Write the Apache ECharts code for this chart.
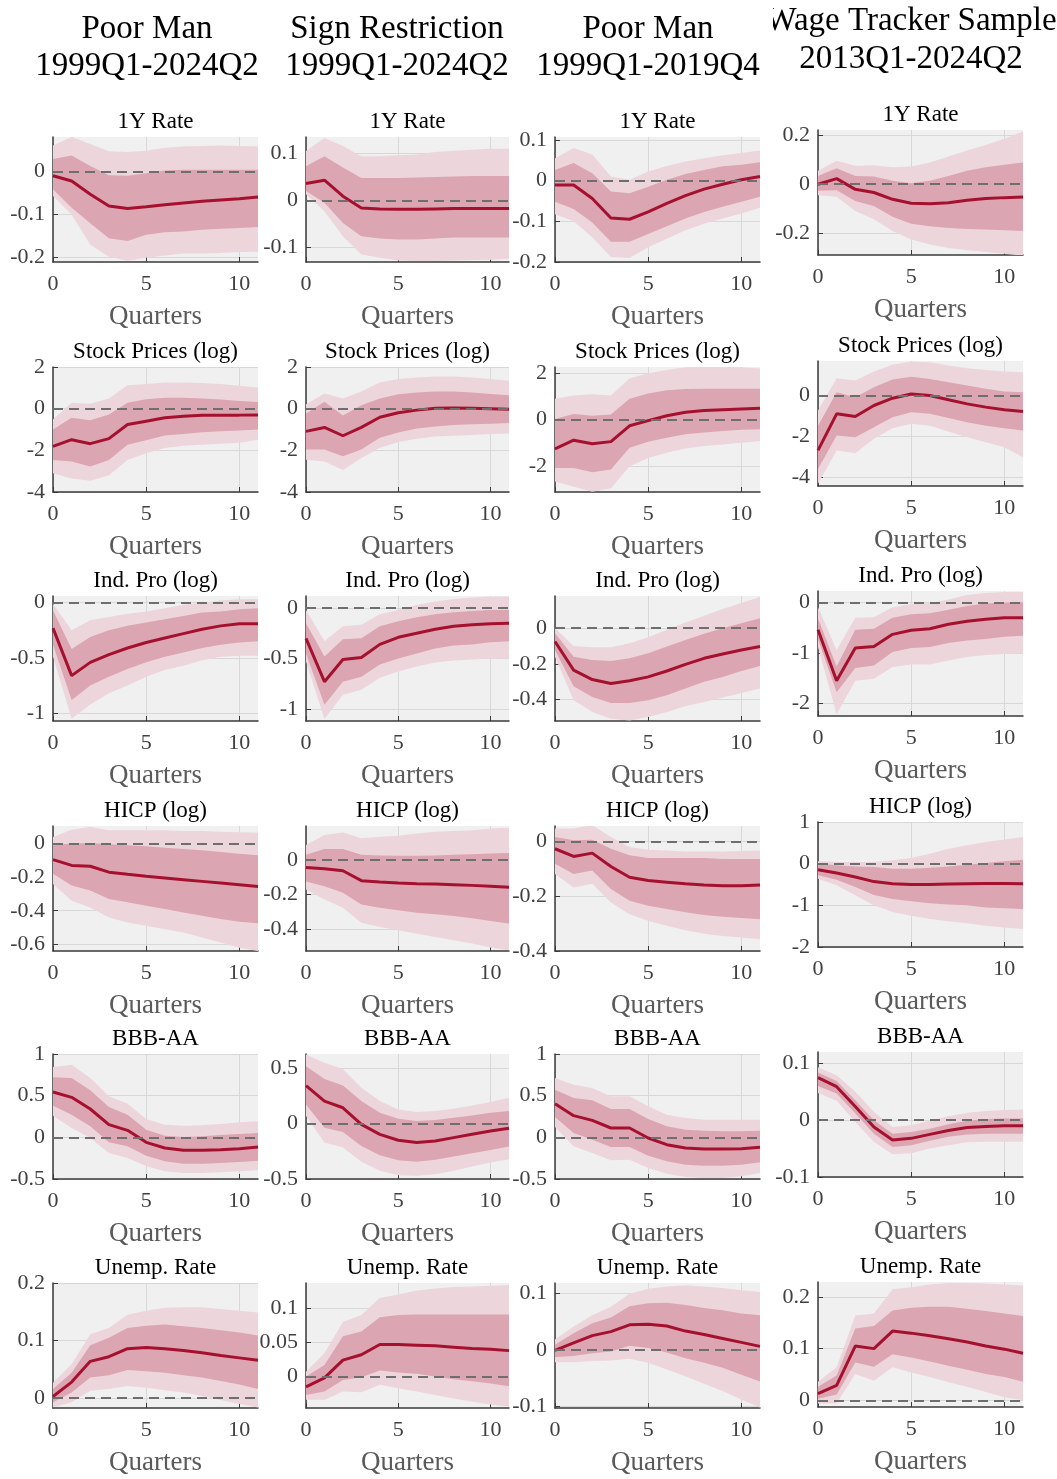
<!DOCTYPE html>
<html><head><meta charset="utf-8">
<script src="https://cdn.jsdelivr.net/npm/echarts@6/dist/echarts.min.js"></script>
<style>html,body{margin:0;padding:0;background:#fff}#c{width:1057px;height:1479px}</style>
</head><body><div id="c"></div>
<script>
// ---------------- DATA ----------------
const horizon = [0,1,2,3,4,5,6,7,8,9,10,11];
const columnTitles = [["Poor Man","1999Q1-2024Q2"],["Sign Restriction","1999Q1-2024Q2"],["Poor Man","1999Q1-2019Q4"],["Wage Tracker Sample","2013Q1-2024Q2"]];
const variableNames = ["1Y Rate","Stock Prices (log)","Ind. Pro (log)","HICP (log)","BBB-AA","Unemp. Rate"];
const xTickValues = [0,5,10];
const xLabel = "Quarters";

// y tick values per column (rows top to bottom)
const yTicksPM   = [[-0.2,-0.1,0],[-4,-2,0,2],[-1,-0.5,0],[-0.6,-0.4,-0.2,0],[-0.5,0,0.5,1],[0,0.1,0.2]];
const yTicksSR   = [[-0.1,0,0.1],[-4,-2,0,2],[-1,-0.5,0],[-0.4,-0.2,0],[-0.5,0,0.5],[0,0.05,0.1]];
const yTicksP19  = [[-0.2,-0.1,0,0.1],[-2,0,2],[-0.4,-0.2,0],[-0.4,-0.2,0],[-0.5,0,0.5,1],[-0.1,0,0.1]];
const yTicksWT   = [[-0.2,0,0.2],[-4,-2,0],[-2,-1,0],[-2,-1,0,1],[-0.1,0,0.1],[0,0.1,0.2]];
// y ranges [min,max]
const yRangePM  = [[-0.21,0.08],[-4,2],[-1.07,0.06],[-0.64,0.105],[-0.5,1],[-0.017,0.2]];
const yRangeSR  = [[-0.131,0.135],[-4,2],[-1.12,0.12],[-0.525,0.195],[-0.5,0.63],[-0.046,0.137]];
const yRangeP19 = [[-0.2,0.107],[-3.1,2.26],[-0.52,0.18],[-0.4,0.056],[-0.5,1],[-0.103,0.118]];
const yRangeWT  = [[-0.29,0.222],[-4.45,1.7],[-2.25,0.23],[-2,1],[-0.1,0.12],[-0.013,0.229]];

// each panel: [lower90, lower68, median, upper68, upper90]
const PM_rate = [
 [-0.057,-0.1,-0.17,-0.198,-0.207,-0.2,-0.195,-0.19,-0.19,-0.189,-0.187,-0.186],
 [-0.041,-0.084,-0.12,-0.155,-0.161,-0.147,-0.141,-0.139,-0.135,-0.133,-0.131,-0.129],
 [-0.01,-0.022,-0.053,-0.08,-0.086,-0.082,-0.077,-0.073,-0.069,-0.066,-0.063,-0.059],
 [0.029,0.037,0.013,-0.009,-0.01,-0.004,0.002,0.004,0.004,0.004,0.004,0.004],
 [0.06,0.08,0.064,0.047,0.045,0.048,0.055,0.058,0.059,0.06,0.059,0.058]];
const PM_stock = [
 [-3.1,-3.35,-3.46,-3.19,-2.46,-2.14,-1.89,-1.78,-1.73,-1.68,-1.64,-1.49],
 [-2.46,-2.54,-2.78,-2.46,-1.73,-1.52,-1.29,-1.21,-1.13,-1.08,-1.05,-1.0],
 [-1.81,-1.49,-1.68,-1.44,-0.76,-0.6,-0.44,-0.36,-0.32,-0.31,-0.31,-0.3],
 [-1.0,-0.44,-0.55,-0.28,0.29,0.45,0.53,0.53,0.49,0.44,0.37,0.32],
 [-0.52,0.29,0.24,0.49,1.13,1.18,1.26,1.26,1.23,1.18,1.1,1.02]];
const PM_ip = [
 [-0.49,-1.05,-0.92,-0.82,-0.75,-0.67,-0.61,-0.57,-0.52,-0.49,-0.48,-0.48],
 [-0.38,-0.88,-0.75,-0.67,-0.6,-0.54,-0.49,-0.45,-0.41,-0.38,-0.36,-0.35],
 [-0.23,-0.66,-0.54,-0.47,-0.41,-0.36,-0.32,-0.28,-0.24,-0.21,-0.19,-0.19],
 [-0.07,-0.42,-0.31,-0.25,-0.21,-0.18,-0.15,-0.12,-0.09,-0.08,-0.06,-0.05],
 [-0.01,-0.25,-0.16,-0.13,-0.1,-0.08,-0.05,-0.02,0,0.02,0.03,0.03]];
const PM_hicp = [
 [-0.24,-0.34,-0.38,-0.44,-0.47,-0.49,-0.51,-0.53,-0.56,-0.59,-0.62,-0.64],
 [-0.18,-0.25,-0.28,-0.33,-0.35,-0.37,-0.39,-0.41,-0.43,-0.45,-0.465,-0.475],
 [-0.095,-0.13,-0.135,-0.17,-0.183,-0.195,-0.205,-0.215,-0.225,-0.235,-0.245,-0.255],
 [-0.01,0,0.004,-0.004,-0.01,-0.016,-0.024,-0.032,-0.04,-0.05,-0.06,-0.07],
 [0.04,0.083,0.1,0.08,0.08,0.08,0.08,0.075,0.075,0.07,0.068,0.065]];
const PM_bbb = [
 [0.26,0.112,-0.008,-0.188,-0.248,-0.348,-0.408,-0.428,-0.428,-0.42,-0.408,-0.396],
 [0.38,0.272,0.132,-0.06,-0.108,-0.22,-0.288,-0.316,-0.316,-0.308,-0.296,-0.28],
 [0.544,0.48,0.34,0.152,0.084,-0.06,-0.128,-0.156,-0.156,-0.148,-0.136,-0.116],
 [0.72,0.712,0.564,0.364,0.272,0.092,0.02,0.004,0.012,0.028,0.04,0.052],
 [0.844,0.872,0.712,0.492,0.404,0.22,0.152,0.14,0.144,0.16,0.18,0.192]];
const PM_unemp = [
 [-0.016,-0.007,0.013,0.016,0.021,0.018,0.014,0.01,0.004,-0.003,-0.01,-0.016],
 [-0.007,0.01,0.036,0.04,0.049,0.047,0.044,0.04,0.036,0.03,0.024,0.016],
 [0.003,0.028,0.064,0.072,0.086,0.088,0.086,0.083,0.079,0.074,0.07,0.066],
 [0.016,0.044,0.092,0.105,0.122,0.126,0.128,0.125,0.122,0.118,0.114,0.109],
 [0.027,0.059,0.111,0.122,0.145,0.152,0.157,0.158,0.158,0.155,0.152,0.149]];

const SR_rate = [
 [0.013,-0.023,-0.076,-0.115,-0.122,-0.128,-0.129,-0.129,-0.128,-0.127,-0.126,-0.124],
 [0.02,-0.005,-0.048,-0.076,-0.081,-0.083,-0.083,-0.081,-0.079,-0.079,-0.079,-0.079],
 [0.036,0.043,0.009,-0.016,-0.018,-0.019,-0.019,-0.018,-0.017,-0.017,-0.017,-0.017],
 [0.073,0.094,0.07,0.048,0.048,0.048,0.049,0.05,0.051,0.052,0.052,0.052],
 [0.105,0.133,0.116,0.094,0.094,0.096,0.098,0.103,0.106,0.108,0.11,0.11]];
const SR_stock = [
 [-2.45,-2.53,-2.94,-2.37,-1.88,-1.6,-1.44,-1.34,-1.3,-1.26,-1.22,-1.19],
 [-1.96,-1.96,-2.28,-1.96,-1.39,-1.14,-0.95,-0.85,-0.78,-0.75,-0.72,-0.69],
 [-1.09,-0.9,-1.3,-0.9,-0.41,-0.2,-0.07,0.02,0.03,0.02,0,-0.03],
 [-0.24,0.33,-0.33,0.16,0.49,0.69,0.78,0.82,0.82,0.78,0.7,0.65],
 [0.21,0.73,0.49,0.82,1.26,1.42,1.5,1.55,1.55,1.5,1.42,1.34]];
const SR_ip = [
 [-0.53,-1.1,-0.86,-0.81,-0.69,-0.63,-0.58,-0.54,-0.52,-0.51,-0.5,-0.5],
 [-0.45,-0.96,-0.73,-0.68,-0.56,-0.5,-0.45,-0.4,-0.37,-0.36,-0.34,-0.33],
 [-0.3,-0.73,-0.51,-0.49,-0.36,-0.29,-0.25,-0.21,-0.18,-0.165,-0.155,-0.15],
 [-0.15,-0.48,-0.31,-0.3,-0.18,-0.13,-0.09,-0.06,-0.04,-0.03,-0.02,-0.02],
 [-0.02,-0.33,-0.18,-0.165,-0.06,-0.02,0.03,0.065,0.09,0.105,0.115,0.115]];
const SR_hicp = [
 [-0.171,-0.229,-0.276,-0.362,-0.387,-0.406,-0.425,-0.444,-0.463,-0.482,-0.505,-0.52],
 [-0.124,-0.152,-0.19,-0.257,-0.276,-0.29,-0.305,-0.314,-0.324,-0.337,-0.352,-0.366],
 [-0.044,-0.051,-0.063,-0.12,-0.128,-0.133,-0.137,-0.139,-0.143,-0.147,-0.152,-0.158],
 [0.029,0.063,0.063,0.029,0.025,0.023,0.023,0.025,0.029,0.032,0.036,0.04],
 [0.086,0.143,0.158,0.124,0.133,0.139,0.152,0.162,0.166,0.171,0.18,0.185]];
const SR_bbb = [
 [0.069,-0.171,-0.216,-0.345,-0.426,-0.465,-0.471,-0.456,-0.426,-0.387,-0.351,-0.321],
 [0.174,-0.036,-0.075,-0.201,-0.285,-0.33,-0.345,-0.327,-0.297,-0.267,-0.237,-0.207],
 [0.345,0.204,0.144,-0.006,-0.096,-0.15,-0.171,-0.156,-0.126,-0.096,-0.066,-0.042],
 [0.52,0.405,0.345,0.204,0.099,0.045,0.024,0.033,0.054,0.075,0.099,0.114],
 [0.625,0.55,0.495,0.324,0.204,0.129,0.105,0.114,0.135,0.165,0.195,0.234]];
const SR_unemp = [
 [-0.034,-0.034,-0.022,-0.023,-0.012,-0.017,-0.022,-0.027,-0.032,-0.037,-0.041,-0.044],
 [-0.027,-0.022,-0.005,-0.001,0.009,0.006,0.004,0,-0.004,-0.007,-0.01,-0.014],
 [-0.015,-0.002,0.024,0.032,0.047,0.047,0.046,0.045,0.043,0.041,0.04,0.038],
 [0,0.017,0.059,0.066,0.087,0.09,0.091,0.091,0.091,0.091,0.091,0.091],
 [0.007,0.034,0.08,0.09,0.115,0.12,0.126,0.129,0.131,0.132,0.133,0.134]];

const P19_rate = [
 [-0.083,-0.1,-0.139,-0.188,-0.19,-0.164,-0.143,-0.122,-0.106,-0.093,-0.081,-0.067],
 [-0.052,-0.07,-0.103,-0.15,-0.15,-0.131,-0.112,-0.093,-0.077,-0.064,-0.052,-0.04],
 [-0.011,-0.011,-0.044,-0.092,-0.095,-0.077,-0.056,-0.037,-0.021,-0.009,0.002,0.01],
 [0.026,0.043,0.018,-0.027,-0.031,-0.015,0.002,0.016,0.026,0.035,0.039,0.045],
 [0.055,0.08,0.064,0.01,0.002,0.022,0.036,0.047,0.055,0.062,0.068,0.074]];
const P19_stock = [
 [-2.65,-2.87,-3.09,-2.94,-2.0,-1.64,-1.42,-1.23,-1.13,-1.06,-0.99,-0.91],
 [-2.07,-2.07,-2.25,-2.14,-1.2,-0.94,-0.77,-0.62,-0.55,-0.48,-0.43,-0.41],
 [-1.25,-0.88,-1.03,-0.94,-0.26,-0.04,0.17,0.32,0.39,0.43,0.46,0.49],
 [0.03,0.25,0.17,0.22,0.9,1.12,1.26,1.32,1.33,1.33,1.33,1.33],
 [0.9,1.04,1.09,1.04,1.77,1.99,2.13,2.25,2.28,2.28,2.25,2.2]];
const P19_ip = [
 [-0.16,-0.404,-0.47,-0.508,-0.517,-0.498,-0.47,-0.438,-0.414,-0.389,-0.363,-0.338],
 [-0.122,-0.325,-0.385,-0.419,-0.419,-0.404,-0.376,-0.338,-0.3,-0.273,-0.24,-0.212],
 [-0.075,-0.235,-0.288,-0.31,-0.295,-0.273,-0.24,-0.203,-0.169,-0.145,-0.122,-0.103],
 [-0.028,-0.16,-0.178,-0.184,-0.169,-0.141,-0.103,-0.066,-0.032,0,0.028,0.056],
 [0,-0.1,-0.107,-0.107,-0.085,-0.051,-0.009,0.032,0.07,0.107,0.141,0.175]];
const P19_hicp = [
 [-0.119,-0.168,-0.155,-0.223,-0.266,-0.29,-0.308,-0.324,-0.337,-0.345,-0.351,-0.357],
 [-0.082,-0.119,-0.106,-0.174,-0.217,-0.235,-0.247,-0.259,-0.269,-0.275,-0.28,-0.284],
 [-0.027,-0.055,-0.043,-0.092,-0.131,-0.143,-0.149,-0.155,-0.159,-0.162,-0.162,-0.159],
 [0.016,0.004,0.006,-0.027,-0.051,-0.061,-0.061,-0.061,-0.061,-0.064,-0.064,-0.064],
 [0.047,0.047,0.059,0.016,-0.021,-0.031,-0.033,-0.037,-0.037,-0.037,-0.035,-0.033]];
const P19_bbb = [
 [0.124,-0.108,-0.188,-0.276,-0.268,-0.368,-0.436,-0.476,-0.488,-0.488,-0.468,-0.428],
 [0.244,0.052,-0.028,-0.116,-0.116,-0.22,-0.288,-0.328,-0.34,-0.34,-0.328,-0.3],
 [0.404,0.26,0.204,0.112,0.112,-0.008,-0.088,-0.128,-0.14,-0.14,-0.136,-0.12],
 [0.572,0.472,0.444,0.34,0.34,0.22,0.132,0.092,0.08,0.072,0.072,0.08],
 [0.712,0.632,0.592,0.492,0.492,0.372,0.272,0.232,0.212,0.212,0.212,0.212]];
const P19_unemp = [
 [-0.022,-0.022,-0.02,-0.019,-0.016,-0.023,-0.035,-0.047,-0.06,-0.073,-0.088,-0.102],
 [-0.013,-0.011,-0.006,-0.003,0.007,0.003,-0.005,-0.015,-0.023,-0.032,-0.044,-0.056],
 [-0.001,0.012,0.025,0.032,0.044,0.045,0.042,0.033,0.027,0.02,0.013,0.006],
 [0.009,0.029,0.047,0.057,0.077,0.082,0.083,0.079,0.074,0.07,0.064,0.061],
 [0.018,0.041,0.061,0.076,0.099,0.108,0.112,0.114,0.112,0.109,0.105,0.102]];

const WT_rate = [
 [-0.045,-0.051,-0.11,-0.144,-0.192,-0.227,-0.247,-0.261,-0.271,-0.278,-0.285,-0.293],
 [-0.027,-0.025,-0.069,-0.089,-0.133,-0.162,-0.172,-0.179,-0.183,-0.186,-0.189,-0.192],
 [0,0.023,-0.021,-0.034,-0.062,-0.078,-0.08,-0.076,-0.066,-0.059,-0.055,-0.052],
 [0.034,0.065,0.034,0.032,0.014,0.004,0.014,0.034,0.055,0.069,0.08,0.089],
 [0.055,0.096,0.076,0.078,0.069,0.073,0.089,0.113,0.138,0.161,0.186,0.216]];
const WT_stock = [
 [-4.34,-2.7,-2.84,-2.13,-1.61,-1.39,-1.48,-1.77,-2.05,-2.3,-2.54,-3.03],
 [-3.61,-1.97,-2.05,-1.56,-1.07,-0.82,-0.9,-1.11,-1.31,-1.48,-1.61,-1.72],
 [-2.7,-0.9,-1.03,-0.49,-0.13,0.08,0,-0.21,-0.41,-0.57,-0.7,-0.79],
 [-1.48,0.16,-0.08,0.41,0.79,0.93,0.82,0.66,0.49,0.33,0.2,0.16],
 [-0.74,0.85,0.74,1.18,1.52,1.67,1.64,1.48,1.34,1.26,1.18,1.15]];
const WT_ip = [
 [-0.88,-2.21,-1.55,-1.51,-1.28,-1.23,-1.23,-1.15,-1.08,-1.04,-1.02,-1.0],
 [-0.72,-1.78,-1.3,-1.25,-0.98,-0.9,-0.88,-0.8,-0.75,-0.72,-0.68,-0.66],
 [-0.54,-1.55,-0.9,-0.87,-0.63,-0.55,-0.52,-0.43,-0.37,-0.33,-0.3,-0.3],
 [-0.32,-1.27,-0.54,-0.52,-0.3,-0.23,-0.21,-0.14,-0.07,-0.02,0,0.01],
 [-0.09,-0.94,-0.3,-0.29,-0.09,-0.03,-0.01,0.06,0.15,0.19,0.21,0.21]];
const WT_hicp = [
 [-0.36,-0.52,-0.76,-1.0,-1.16,-1.25,-1.33,-1.38,-1.43,-1.49,-1.53,-1.57],
 [-0.28,-0.386,-0.56,-0.75,-0.845,-0.9,-0.95,-0.98,-1.0,-1.05,-1.07,-1.09],
 [-0.145,-0.225,-0.32,-0.43,-0.48,-0.5,-0.5,-0.49,-0.48,-0.475,-0.475,-0.48],
 [0,-0.04,-0.065,-0.08,-0.12,-0.12,-0.097,-0.065,-0.024,0.016,0.056,0.097],
 [0.056,0.04,0.04,0.04,0.08,0.137,0.24,0.36,0.44,0.52,0.58,0.64]];
const WT_bbb = [
 [0.048,0.034,-0.003,-0.038,-0.06,-0.058,-0.05,-0.044,-0.039,-0.038,-0.038,-0.038],
 [0.06,0.047,0.012,-0.024,-0.047,-0.044,-0.036,-0.029,-0.025,-0.024,-0.024,-0.024],
 [0.075,0.059,0.024,-0.012,-0.035,-0.032,-0.025,-0.018,-0.013,-0.011,-0.01,-0.01],
 [0.084,0.069,0.035,0,-0.024,-0.021,-0.015,-0.007,-0.001,0.002,0.003,0.003],
 [0.093,0.079,0.05,0.015,-0.012,-0.009,-0.001,0.007,0.013,0.016,0.018,0.019]];
const WT_unemp = [
 [-0.006,-0.006,0.051,0.038,0.064,0.054,0.045,0.035,0.026,0.016,0.006,0],
 [0.003,0.011,0.073,0.065,0.089,0.083,0.075,0.067,0.059,0.051,0.045,0.036],
 [0.013,0.029,0.105,0.1,0.134,0.13,0.125,0.119,0.113,0.105,0.099,0.091],
 [0.026,0.048,0.139,0.144,0.174,0.179,0.181,0.181,0.177,0.173,0.168,0.163],
 [0.036,0.064,0.164,0.168,0.215,0.219,0.224,0.227,0.227,0.226,0.224,0.222]];

// ---------------- LAYOUT / STYLE ----------------
const columns = [
  {panels:[PM_rate,PM_stock,PM_ip,PM_hicp,PM_bbb,PM_unemp], ticks:yTicksPM, ranges:yRangePM},
  {panels:[SR_rate,SR_stock,SR_ip,SR_hicp,SR_bbb,SR_unemp], ticks:yTicksSR, ranges:yRangeSR},
  {panels:[P19_rate,P19_stock,P19_ip,P19_hicp,P19_bbb,P19_unemp], ticks:yTicksP19, ranges:yRangeP19},
  {panels:[WT_rate,WT_stock,WT_ip,WT_hicp,WT_bbb,WT_unemp], ticks:yTicksWT, ranges:yRangeWT}
];
const colLeft = [53,306,555,818];
const colWidth = [205,203,205,205];
const rowTopStd = [137,367,596,826,1054,1283];
const rowTopWT = [130,361,591,822,1052,1282];
const panelH = 125;
const titleCenters = [[147,29,66],[397,29,66],[648,29,66],[911,21,59]];

const FONT = '"Liberation Serif","Times New Roman",serif';
const C_OUT = '#edd5dc', C_IN = '#dca5b2', C_LINE = '#a5102f';
const C_BG = '#f0f0f0', C_GRID = '#d8d8d8', C_AXIS = '#3a3a3a', C_LABEL = '#404040';

const grids=[], xAxes=[], yAxes=[], series=[], graphics=[];

function band(idx, lo, hi, color){
  return {type:'custom', xAxisIndex:idx, yAxisIndex:idx, data:[[5,0]], silent:true, clip:true, z:1,
    renderItem:function(params, api){
      const pts=[];
      for(let k=0;k<horizon.length;k++) pts.push(api.coord([horizon[k], hi[k]]));
      for(let k=horizon.length-1;k>=0;k--) pts.push(api.coord([horizon[k], lo[k]]));
      return {type:'polygon', shape:{points:pts}, style:{fill:color}};
    }};
}

columns.forEach((col, c) => {
  const tops = c===3 ? rowTopWT : rowTopStd;
  col.panels.forEach((p, r) => {
    const idx = grids.length;
    const left = colLeft[c], top = tops[r], w = colWidth[c];
    grids.push({left:left, top:top, width:w, height:panelH, show:true, backgroundColor:C_BG, borderWidth:0});
    xAxes.push({type:'value', gridIndex:idx, min:0, max:11,
      axisLine:{show:true, onZero:false, lineStyle:{color:C_AXIS, width:1.5}},
      axisTick:{show:true, inside:true, length:5, customValues:xTickValues, lineStyle:{color:C_AXIS}},
      axisLabel:{customValues:xTickValues, margin:11, fontFamily:FONT, fontSize:22, color:C_LABEL},
      splitLine:{show:true, lineStyle:{color:C_GRID, width:1}},
      name:xLabel, nameLocation:'middle', nameGap:55,
      nameTextStyle:{fontFamily:FONT, fontSize:27, color:'#5a5a5a', verticalAlign:'middle'}});
    yAxes.push({type:'value', gridIndex:idx, min:col.ranges[r][0], max:col.ranges[r][1],
      axisLine:{show:true, onZero:false, lineStyle:{color:C_AXIS, width:1.5}},
      axisTick:{show:true, inside:true, length:5, customValues:col.ticks[r], lineStyle:{color:C_AXIS}},
      axisLabel:{customValues:col.ticks[r], margin:8, fontFamily:FONT, fontSize:22, color:C_LABEL,
        formatter:function(v){return String(Math.round(v*1000)/1000);}},
      splitLine:{show:true, lineStyle:{color:C_GRID, width:1}}});
    series.push(band(idx, p[0], p[4], C_OUT));
    series.push(band(idx, p[1], p[3], C_IN));
    series.push({type:'line', xAxisIndex:idx, yAxisIndex:idx, data:[], z:2, silent:true,
      markLine:{silent:true, symbol:['none','none'], label:{show:false}, animation:false,
        lineStyle:{color:'#6e6e6e', type:[10,6], width:2}, data:[{yAxis:0}]}});
    series.push({type:'line', xAxisIndex:idx, yAxisIndex:idx, z:3, silent:true,
      data: horizon.map((h,k)=>[h, p[2][k]]), showSymbol:false, symbol:'none',
      lineStyle:{color:C_LINE, width:3}});
    graphics.push({type:'text', x:left + w/2, y:top - 15, silent:true,
      style:{text:variableNames[r], font:'23px '+FONT, fill:'#000', textAlign:'center', textVerticalAlign:'middle', align:'center', verticalAlign:'middle'}});
  });
});

columnTitles.forEach((t, c) => {
  const [cx, y1, y2] = titleCenters[c];
  graphics.push({type:'text', x:cx, y:y1, silent:true,
    style:{text:t[0], font:'33px '+FONT, fill:'#000', textAlign:'center', textVerticalAlign:'middle', align:'center', verticalAlign:'middle'}});
  graphics.push({type:'text', x:cx, y:y2, silent:true,
    style:{text:t[1], font:'33px '+FONT, fill:'#000', textAlign:'center', textVerticalAlign:'middle', align:'center', verticalAlign:'middle'}});
});
// the reference figure is cropped at the left edge of the fourth column's heading
graphics.push({type:'rect', shape:{x:755, y:0, width:18, height:40}, style:{fill:'#ffffff'}, silent:true, z:100});

const chart = echarts.init(document.getElementById('c'), null, {renderer:'canvas', width:1057, height:1479});
chart.setOption({
  animation:false,
  backgroundColor:'#ffffff',
  grid:grids, xAxis:xAxes, yAxis:yAxes, series:series, graphic:graphics
});
</script>
</body></html>
